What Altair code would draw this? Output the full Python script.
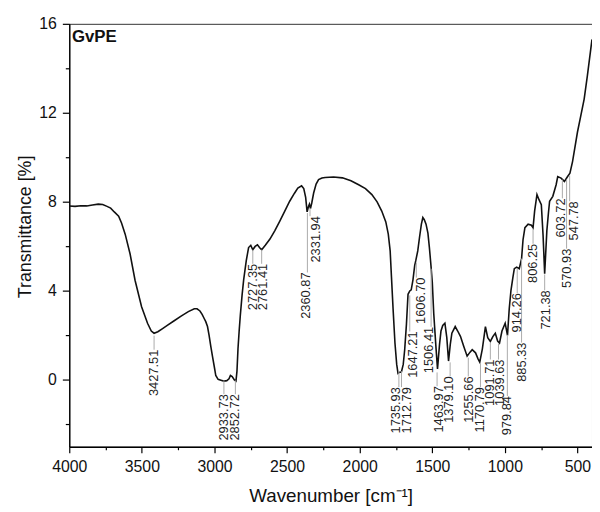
import altair as alt
import pandas as pd

# ---- spectrum ----
wavenumber = [4000, 3960, 3920, 3880, 3840, 3800, 3770, 3740, 3715, 3690, 3660, 3640, 3615, 3581,
              3547, 3502, 3461, 3435, 3416, 3390, 3360, 3325, 3280, 3230, 3180, 3139, 3120, 3100,
              3085, 3070, 3060, 3048, 3037, 3025, 3014, 3000, 2991, 2975, 2950, 2935, 2915, 2900,
              2890, 2878, 2863, 2852, 2845, 2838, 2830, 2822, 2810, 2799, 2781, 2765, 2750, 2736,
              2720, 2704, 2690, 2675, 2650, 2618, 2585, 2550, 2515, 2482, 2450, 2426, 2400, 2385,
              2372, 2362, 2352, 2346, 2339, 2330, 2317, 2300, 2283, 2260, 2238, 2180, 2119, 2060,
              2007, 1960, 1916, 1880, 1848, 1820, 1803, 1790, 1781, 1770, 1757, 1745, 1736, 1725,
              1713, 1700, 1690, 1678, 1667, 1655, 1645, 1633, 1621, 1614, 1600, 1588, 1575, 1565,
              1555, 1543, 1530, 1520, 1509, 1500, 1490, 1476, 1464, 1450, 1440, 1428, 1413, 1400,
              1388, 1376, 1365, 1342, 1325, 1306, 1283, 1260, 1240, 1225, 1202, 1185, 1173, 1155,
              1134, 1118, 1100, 1083, 1066, 1050, 1037, 1020, 998, 982, 970, 958, 945, 935, 919,
              901, 885, 875, 862, 840, 817, 806, 795, 779, 765, 749, 737, 726, 718, 711, 700, 692,
              670, 647, 636, 613, 590, 568, 552, 534, 500, 477, 454, 432, 409, 400]
transmittance = [7.82, 7.80, 7.83, 7.82, 7.86, 7.90, 7.88, 7.80, 7.72, 7.55, 7.36, 7.05, 6.55, 5.66,
                 4.48, 3.29, 2.55, 2.2, 2.1, 2.17, 2.3, 2.45, 2.65, 2.87, 3.07, 3.2, 3.2, 3.1,
                 2.95, 2.75, 2.62, 2.4, 2.0, 1.5, 1.07, 0.55, 0.2, 0.03, -0.02, -0.05, -0.03, 0.05,
                 0.2, 0.15, 0.0, -0.05, 0.4, 1.4, 2.2, 2.9, 3.8, 4.5, 5.36, 5.95, 6.05, 5.85,
                 6.0, 6.07, 5.95, 5.85, 6.05, 6.33, 6.7, 7.14, 7.6, 8.03, 8.38, 8.62, 8.72, 8.6,
                 8.2, 7.55, 7.8, 7.9, 7.7, 7.95, 8.4, 8.8, 9.0, 9.07, 9.1, 9.12, 9.08, 8.95,
                 8.77, 8.6, 8.33, 8.0, 7.59, 7.1, 6.55, 5.8, 4.62, 3.2, 1.66, 0.7, 0.3, 0.35,
                 0.35, 0.7, 1.36, 2.5, 3.85, 4.0, 4.05, 4.5, 5.15, 5.35, 5.8, 6.4, 7.0, 7.3,
                 7.2, 7.0, 6.6, 5.96, 5.14, 4.4, 3.0, 1.6, 0.5, 1.6, 2.2, 2.45, 2.55, 1.9,
                 0.85, 1.6, 2.1, 2.4, 2.2, 1.96, 1.5, 1.07, 1.25, 1.36, 1.22, 0.95, 0.8, 1.4,
                 2.4, 1.9, 1.73, 1.95, 2.1, 1.75, 1.66, 2.2, 2.55, 2.0, 3.2, 4.03, 4.6, 5.0, 5.07,
                 5.0, 5.45, 6.3, 6.84, 7.0, 6.95, 6.84, 7.6, 8.33, 8.1, 7.88, 6.5, 4.77, 5.8, 6.7, 7.5, 8.03,
                 8.25, 8.77, 9.14, 9.07, 8.92, 9.14, 9.29, 9.81, 11.14, 11.88, 12.62, 13.66, 14.84, 15.3]

# ---- peak annotations ----
peak_labels = ["3427.51", "2933.73", "2852.72", "2727.35", "2761.41", "2360.87", "2331.94",
               "1735.93", "1712.79", "1647.21", "1606.70", "1506.41", "1463.97", "1379.10",
               "1255.66", "1170.79", "1091.71", "1039.63", "979.84", "914.26", "885.33",
               "806.25", "721.38", "603.72", "570.93", "547.78"]
peak_line_x = [3416, 2935, 2856, 2736, 2675, 2360, 2342, 1730, 1712, 1655, 1610, 1508, 1467, 1377,
               1252, 1168, 1100, 1044, 983, 915, 885, 806, 726, 604, 575, 554]
peak_line_top = [1.99, -0.02, -0.02, 5.85, 5.85, 7.5, 7.72, 0.39, 0.39, 3.8, 5.27, 5.0, 0.34, 0.79,
                 1.0, 0.74, 1.68, 1.63, 2.03, 5.0, 5.45, 6.79, 4.74, 9.0, 9.0, 9.19]
peak_text_x = [3416, 2935, 2856, 2731, 2663, 2369, 2301, 1750, 1675, 1633, 1576, 1519, 1451, 1384,
               1248, 1173, 1104, 1032, 988, 919, 881, 806, 715, 614, 575, 524]
peak_text_top = [1.36, -0.64, -0.64, 5.22, 5.22, 4.83, 7.36, -0.32, -0.32, 2.18, 4.6, 2.39, -0.28, 0.16,
                 0.16, -0.32, 0.92, 0.92, -0.72, 3.9, 1.68, 6.12, 4.03, 8.16, 5.9, 8.03]

sample_name = ["GvPE"]
sample_x = [3982]
sample_y = [15.41]

x_major = [500, 1000, 1500, 2000, 2500, 3000, 3500, 4000]
x_minor = [750, 1250, 1750, 2250, 2750, 3250, 3750]
y_major = [0, 4, 8, 12, 16]
y_minor = [-2, 2, 6, 10, 14]

FONT = "Liberation Sans"

spec = pd.DataFrame({"wn": wavenumber, "t": transmittance})
peaks = pd.DataFrame({"label": peak_labels, "lx": peak_line_x, "ltop": peak_line_top,
                      "tx": peak_text_x, "ttop": peak_text_top})
sample = pd.DataFrame({"name": sample_name, "x": sample_x, "y": sample_y})

xscale = alt.Scale(domain=[400, 4000], reverse=True, nice=False, zero=False)
yscale = alt.Scale(domain=[-3, 16], nice=False, zero=False)

curve = alt.Chart(spec).mark_line(color="#111111", strokeWidth=1.6).encode(
    x=alt.X("wn:Q", scale=xscale,
            axis=alt.Axis(values=x_major, orient="bottom", title="Wavenumber [cm⁻¹]",
                          tickSize=6, labelFontSize=16, labelPadding=6, labelFlush=False,
                          titleFontSize=19, titlePadding=12, format="d")),
    y=alt.Y("t:Q", scale=yscale,
            axis=alt.Axis(values=y_major, orient="left", title="Transmittance [%]",
                          tickSize=7, labelFontSize=16, labelPadding=6,
                          titleFontSize=18, titlePadding=4, titleY=205, format="d")),
)

leaders = alt.Chart(peaks).mark_rule(color="#aaaaaa", strokeWidth=1).encode(
    x=alt.X("lx:Q", scale=xscale,
            axis=alt.Axis(values=x_minor, orient="bottom", labels=False, domain=False,
                          tickSize=3, title=None)),
    y=alt.Y("ltop:Q", scale=yscale,
            axis=alt.Axis(values=y_minor, orient="left", labels=False, domain=False,
                          tickSize=4, title=None)),
    y2="ttop:Q",
)

texts = alt.Chart(peaks).mark_text(angle=270, align="right", baseline="middle",
                                   fontSize=13, font=FONT, color="#222222").encode(
    x=alt.X("tx:Q", scale=xscale, axis=None),
    y=alt.Y("ttop:Q", scale=yscale, axis=None),
    text="label:N",
)

name = alt.Chart(sample).mark_text(align="left", baseline="middle", fontSize=17,
                                   fontWeight="bold", font=FONT, color="#111111").encode(
    x=alt.X("x:Q", scale=xscale, axis=None),
    y=alt.Y("y:Q", scale=yscale, axis=None),
    text="name:N",
)

chart = alt.layer(curve, leaders, texts, name).resolve_axis(
    x="independent", y="independent"
).properties(
    width=529, height=428,
    padding={"left": 62, "top": 13, "right": 0, "bottom": 63},
    autosize=alt.AutoSizeParams(type="none"),
).configure_view(
    stroke="#333333", strokeWidth=1
).configure_axis(
    grid=False, domainColor="#000000", domainWidth=1.3, tickColor="#000000", tickWidth=1.2,
    labelColor="#111111", titleColor="#111111", labelFont=FONT, titleFont=FONT,
    titleFontWeight="normal"
)

chart.save("out.html", embed_options={"renderer": "svg", "actions": False})
